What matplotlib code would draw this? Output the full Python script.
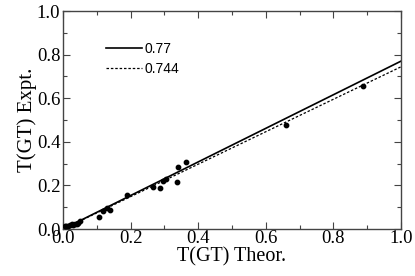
import matplotlib
matplotlib.use("Agg")
import matplotlib.pyplot as plt
import numpy as np
from matplotlib.ticker import MultipleLocator

x_theor = [0.005, 0.01, 0.015, 0.02, 0.025, 0.03, 0.035, 0.04, 0.045, 0.05,
           0.106, 0.118, 0.13, 0.138, 0.188, 0.267, 0.286, 0.296, 0.306,
           0.339, 0.363, 0.338, 0.661, 0.888]
y_expt = [0.012, 0.015, 0.012, 0.02, 0.025, 0.02, 0.025, 0.022, 0.03, 0.035,
          0.055, 0.084, 0.098, 0.089, 0.157, 0.195, 0.19, 0.22, 0.228,
          0.287, 0.307, 0.217, 0.478, 0.656]
slopes = [0.77, 0.744]
slope_labels = ["0.77", "0.744"]

fig = plt.figure(figsize=(4.15, 2.76), dpi=100)
ax = fig.add_axes([0.152, 0.170, 0.814, 0.790])

xl = np.array([0.0, 1.0])
ax.plot(xl, slopes[0] * xl, color="black", lw=1.2, label=slope_labels[0])
ax.plot(xl, slopes[1] * xl, color="black", lw=0.9, ls=(0, (2, 1.5)), label=slope_labels[1])
ax.scatter(x_theor, y_expt, s=10, color="black", zorder=3)

ax.set_xlim(0, 1)
ax.set_ylim(0, 1)
ax.xaxis.set_major_locator(MultipleLocator(0.2))
ax.yaxis.set_major_locator(MultipleLocator(0.2))
ax.xaxis.set_minor_locator(MultipleLocator(0.1))
ax.yaxis.set_minor_locator(MultipleLocator(0.1))
ax.tick_params(which="both", direction="in", top=True, right=True, color="#444")
ax.tick_params(which="major", length=5, width=0.8)
ax.tick_params(which="minor", length=3, width=0.8)
for sp in ax.spines.values():
    sp.set_color("#444")
    sp.set_linewidth(1.0)

for lab in ax.get_xticklabels() + ax.get_yticklabels():
    lab.set_family("Liberation Serif")
    lab.set_fontsize(13.5)
ax.tick_params(axis="x", pad=1)
ax.tick_params(axis="y", pad=2)

ax.set_xlabel("T(GT) Theor.", family="Liberation Serif", fontsize=14.5, labelpad=0)
ax.set_ylabel("T(GT) Expt.", family="Liberation Serif", fontsize=15, labelpad=0)

leg = ax.legend(loc="upper left", bbox_to_anchor=(0.09, 0.915), frameon=False,
                prop={"family": "Liberation Sans", "size": 10},
                handlelength=2.6, handletextpad=0.15, labelspacing=0.45)

fig.savefig("out.png", dpi=100)
